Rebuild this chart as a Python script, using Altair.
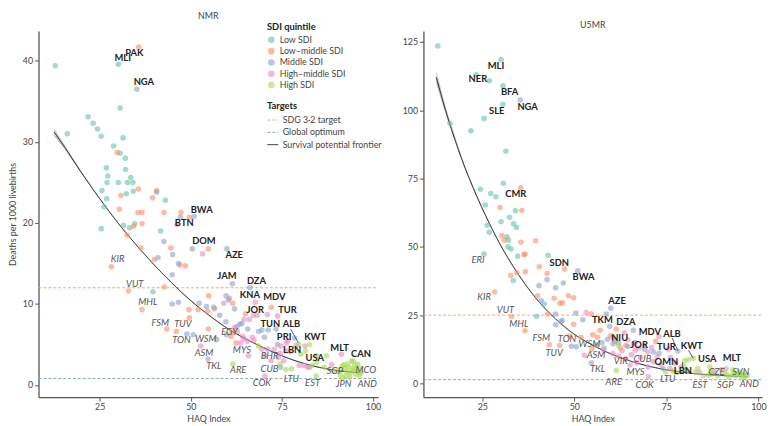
import altair as alt
import pandas as pd

FONT = "Lato"
SDI = ["Low SDI", "Low–middle SDI", "Middle SDI", "High–middle SDI", "High SDI"]
SDI_COLORS = ["#66c2a5", "#fc8d62", "#8da0cb", "#e78ac3", "#a6d854"]
TARGETS = ["SDG 3·2 target", "Global optimum", "Survival potential frontier"]
TARGET_COLORS = ["#f4a582", "#8fa8b8", "#1a1a1a"]

# ---------------- NMR panel (HAQ, deaths per 1000) ----------------
nmr_low = [(12.8,39.4),(30.1,39.6),(30.6,34.2),(21.8,33.1),(23.2,32.3),(24.4,31.6),(16.1,31.0),(25.4,30.7),
           (31.4,30.5),(28.8,29.5),(30.6,28.6),(32.0,28.0),(26.8,26.8),(32.1,26.6),(27.2,25.8),(33.5,25.6),
           (27.0,25.0),(30.1,25.0),(32.6,25.0),(34.1,25.0),(25.6,24.0),(34.2,23.9),(32.3,23.6),(43.0,22.8),
           (26.9,23.0),(26.2,22.0),(31.5,19.7),(33.2,19.4),(34.6,19.9),(25.4,19.3),(41.7,19.0),(39.6,11.5)]
nmr_lowmid = [(35.7,41.7),(29.8,28.7),(35.6,24.2),(40.6,24.0),(39.5,23.1),(30.8,23.4),(30.4,21.7),(35.5,21.3),
              (36.6,21.3),(42.6,21.3),(47.3,21.3),(49.6,20.7),(34.3,19.6),(36.6,19.9),(46.2,19.8),(32.5,18.5),
              (36.3,16.9),(44.5,16.9),(54.8,16.8),(40.0,15.5),(47.0,14.8),(48.5,14.7),(28.2,14.6),(42.7,12.1),
              (32.9,11.6),(54.9,11.0),(60.6,10.7),(61.5,10.1),(49.5,9.3),(52.0,9.3),(54.6,9.1),(56.5,9.4),
              (36.6,9.3),(49.6,8.3),(65.0,8.8),(72.1,9.6),(43.4,6.9),(46.0,6.6),(54.8,6.9),(61.3,6.5),
              (62.8,6.6),(61.0,6.0),(62.4,5.2)]
nmr_mid = [(35.2,36.5),(40.6,23.8),(47.1,20.7),(50.9,20.8),(42.6,17.7),(45.0,16.1),(50.4,16.8),(59.9,16.8),
           (41.0,15.7),(46.6,15.0),(44.9,13.6),(61.4,12.5),(66.2,12.0),(59.7,11.0),(60.3,10.5),(44.9,10.0),
           (46.6,10.2),(52.3,10.1),(54.3,9.7),(56.3,9.6),(57.9,8.6),(62.0,9.4),(59.6,7.8),(63.4,7.5),
           (64.0,7.6),(62.6,7.2),(48.9,6.3),(50.7,6.2),(57.1,5.6),(59.8,6.2),(65.6,6.9),(68.6,6.6),
           (69.5,6.8),(71.2,6.8),(73.4,6.9),(70.2,5.9),(73.8,5.0),(78.5,5.8),(54.7,3.2),(74.6,2.2)]
nmr_highmid = [(53.2,16.2),(59.0,10.1),(67.7,10.2),(64.6,8.1),(66.1,8.1),(67.2,8.6),(68.2,8.6),(71.0,8.7),
               (73.8,8.5),(62.0,7.1),(64.2,6.0),(64.6,5.7),(63.7,5.2),(65.6,5.4),(66.9,5.9),(67.3,5.5),
               (52.7,4.8),(65.8,3.6),(69.5,4.4),(71.1,4.4),(70.3,3.6),(72.9,4.4),(74.5,3.9),(74.0,3.4),
               (70.3,1.1),(76.2,5.2),(76.6,5.5),(81.3,4.8),(82.0,2.2),(88.6,2.5),(91.3,3.8),(74.7,4.8),
               (77.4,4.1),(76.2,4.2),(81.0,2.4),(79.7,2.4),(78.9,4.9),(82.6,2.2),(75.5,3.0),(72.0,3.0)]
nmr_high = [(61.5,2.6),(68.6,4.8),(74.5,2.6),(79.6,5.0),(82.6,5.0),(80.2,3.8),(81.5,4.2),(84.5,3.6),
            (83.3,2.4),(87.2,3.6),(84.4,1.1),(76.1,1.9),(77.6,2.0),(86.6,2.2),(84.5,2.8),(89.1,1.7),
            (91.0,1.3),(91.6,0.9),(90.5,1.8),(91.5,2.3),(92.0,2.5),(92.3,2.0),(92.8,1.6),(93.0,2.6),
            (93.3,2.2),(93.8,1.5),(94.1,3.0),(94.3,2.0),(94.6,1.8),(95.0,2.4),(95.2,1.3),(95.5,2.0),
            (95.8,2.6),(96.0,1.6),(96.3,1.1),(96.5,2.1),(96.8,1.5),(92.5,1.1),(93.6,1.0),(94.6,2.9)]

nmr_front_x = [12.5, 15, 20, 25, 30, 35, 40, 45, 50, 55, 60, 65, 70, 75, 80, 85, 90, 96.5]
nmr_front_y = [31.2, 29.6, 26.2, 23.0, 20.0, 17.3, 14.8, 12.5, 10.4, 8.6, 7.0, 5.7, 4.6, 3.6, 2.8, 2.2, 1.8, 1.5]
nmr_front_ci = [0.5, 0.3, 0.15, 0.08, 0.05, 0.05, 0.05, 0.05, 0.05, 0.05, 0.05, 0.05, 0.05, 0.05, 0.05, 0.05, 0.05, 0.05]
nmr_targets = [12.0, 0.8]

nmr_bold = [("PAK",34.5,41.0),("MLI",31.3,40.3),("NGA",37.1,37.4),("BWA",53.0,21.6),("BTN",48.2,20.0),
            ("DOM",53.6,17.8),("AZE",61.9,16.1),("JAM",59.9,13.5),("DZA",68.0,12.8),("KNA",66.2,11.1),
            ("MDV",72.9,10.9),("JOR",67.7,9.3),("TUR",76.5,9.3),("TUN",71.8,7.5),("ALB",77.6,7.5),
            ("PRI",75.6,5.9),("KWT",84.1,5.9),("LBN",77.8,4.3),("USA",84.0,3.3),("MLT",90.8,4.6),("CAN",96.7,3.8)]
nmr_italic = [("KIR",29.9,15.5),("VUT",34.6,12.4),("MHL",38.2,10.3),("FSM",41.6,7.7),("TUV",47.8,7.5),
              ("TON",47.4,5.6),("WSM",54.1,5.7),("EGY",60.6,6.5),("ASM",53.6,3.9),("TKL",56.3,2.4),
              ("MYS",64.0,4.3),("ARE",63.0,1.8),("BHR",71.6,3.6),("CUB",71.6,2.0),("COK",69.5,0.3),
              ("LTU",77.6,0.7),("EST",83.4,0.3),("SGP",89.5,1.7),("JPN",91.9,0.1),("MCO",98.0,1.9),("AND",98.4,0.1)]
nmr_leaders = [(77.4,6.9,79.5,5.2)]

# ---------------- U5MR panel ----------------
u5_low = [(12.9,123.5),(30.1,118.5),(23.3,113.0),(26.9,110.8),(30.6,108.9),(30.6,102.2),(25.5,97.0),(16.2,95.2),
          (21.9,92.5),(31.4,85.0),(30.7,73.3),(24.5,71.1),(27.3,69.5),(28.7,68.3),(25.8,65.3),(34.0,63.2),
          (32.4,60.8),(30.1,59.2),(33.5,58.4),(34.3,57.1),(26.3,57.9),(26.9,55.3),(31.7,53.7),(32.1,52.4),
          (32.0,50.0),(32.8,49.2),(34.6,46.6),(25.5,47.4),(42.9,46.9),(33.4,37.7),(41.8,29.1),(39.7,24.6)]
u5_lowmid = [(35.4,71.6),(29.8,64.4),(35.7,63.3),(30.3,54.1),(31.0,52.4),(35.5,51.7),(39.5,52.2),(36.3,47.1),
             (36.6,47.4),(40.5,42.7),(47.3,41.9),(42.6,40.3),(34.4,40.5),(36.7,40.9),(32.7,39.5),(28.3,33.5),
             (40.0,32.1),(48.4,32.1),(49.8,31.4),(44.5,31.2),(46.1,29.4),(46.8,29.5),(32.9,24.5),(42.8,25.4),
             (54.6,25.4),(36.6,19.3),(49.8,21.7),(61.4,19.9),(43.2,14.2),(46.0,13.9),(48.7,17.4),(51.8,16.9),
             (55.0,17.8),(56.3,16.9),(59.8,17.5),(54.8,12.5),(72.1,15.4),(64.0,14.0),(60.5,17.0),(57.0,19.5),
             (62.5,13.0)]
u5_mid = [(35.3,103.7),(50.9,41.2),(42.6,38.0),(40.4,35.8),(47.0,36.8),(44.9,35.0),(41.0,30.3),(44.9,25.4),
          (46.7,23.1),(50.4,25.8),(52.3,23.3),(59.9,27.5),(58.7,25.4),(44.9,21.5),(46.4,22.6),(59.6,20.9),
          (66.0,19.5),(49.2,13.6),(50.5,13.4),(54.6,7.5),(57.5,15.0),(59.0,16.2),(60.5,14.5),(61.0,15.5),
          (62.0,14.8),(73.0,11.1),(74.1,5.4),(78.1,11.9),(69.0,12.5),(66.5,15.0),(64.5,13.5),(71.5,11.5),
          (56.0,14.0),(58.0,13.0)]
u5_highmid = [(53.2,26.0),(63.6,18.6),(52.7,10.3),(65.1,6.8),(70.1,2.5),(73.0,17.2),(76.1,9.5),(91.2,5.4),
              (64.5,16.0),(66.0,14.5),(67.5,13.0),(69.0,14.0),(70.0,11.5),(68.0,9.5),(71.5,8.0),(73.5,7.0),
              (63.0,12.0),(60.5,11.0),(65.5,10.5),(71.0,13.2),(75.5,12.5),(77.5,7.5),(79.0,6.0),(76.0,5.5),
              (84.0,4.0),(88.0,4.5),(90.0,5.0),(70.0,6.0),(67.0,7.5),(58.0,12.0),(66.5,12.2),(72.5,9.8),
              (62.0,10.0),(64.0,9.0)]
u5_high = [(61.4,4.8),(74.8,4.2),(76.8,4.6),(77.9,4.0),(80.0,8.4),(81.0,8.7),(82.3,9.2),(79.7,6.6),
           (80.5,5.0),(82.9,4.2),(83.5,5.5),(86.8,6.0),(87.0,4.2),(87.7,3.6),(86.5,3.0),(85.0,2.8),
           (89.0,2.8),(90.8,4.0),(91.5,3.2),(92.0,2.5),(93.0,3.2),(93.5,4.0),(94.0,2.8),(94.5,3.5),
           (95.0,4.2),(95.5,3.0),(96.0,3.5),(96.5,2.6),(93.0,5.0),(95.5,2.2),(97.0,3.0),(62.0,14.0)]

u5_front_x = [12.5, 15, 20, 25, 30, 35, 40, 45, 50, 55, 60, 65, 70, 75, 80, 85, 90, 97]
u5_front_y = [112, 100, 80, 64, 50.5, 39.5, 30.5, 23.5, 18, 14, 10.8, 8.3, 6.4, 5.0, 4.0, 3.3, 2.9, 2.5]
u5_front_ci = [2.5, 1.4, 0.6, 0.3, 0.2, 0.15, 0.1, 0.1, 0.1, 0.1, 0.1, 0.1, 0.1, 0.1, 0.1, 0.1, 0.1, 0.1]
u5_targets = [25.0, 1.4]

u5_bold = [("MLI",28.7,116.3),("NER",23.8,111.5),("BFA",32.4,106.5),("NGA",37.3,101.2),("SLE",28.9,99.7),
           ("CMR",34.1,69.3),("SDN",45.9,44.2),("BWA",52.5,38.8),("AZE",61.6,30.1),("TKM",57.6,23.1),
           ("DZA",64.0,22.5),("MDV",70.5,19.0),("ALB",76.5,18.1),("NIU",62.3,16.6),("KWT",81.9,13.7),
           ("JOR",67.6,14.2),("TUR",75.0,13.3),("USA",86.1,8.9),("MLT",92.8,9.2),("OMN",75.0,7.8),("LBN",79.5,4.5)]
u5_italic = [("ERI",23.8,45.2),("KIR",25.5,31.5),("VUT",31.3,26.9),("MHL",34.9,21.9),("FSM",41.0,16.8),
             ("TON",48.0,16.2),("WSM",54.1,14.5),("TUV",44.5,11.3),("ASM",55.9,10.3),("VIR",62.6,8.3),
             ("CUB",68.5,8.9),("TKL",56.3,5.2),("MYS",66.6,4.2),("CZE",88.6,4.2),("SVN",95.2,4.2),
             ("ARE",60.7,0.7),("LTU",75.4,1.7),("EST",84.1,-0.5),("COK",69.1,-0.7),("SGP",91.0,-0.5),("AND",97.5,-0.2)]
u5_leaders = [(76.6,16.6,78.1,12.0),(81.0,12.2,82.3,9.3),(79.4,7.9,79.4,5.5)]


def points_df(groups):
    rows = []
    for name, pts in zip(SDI, groups):
        for h, v in pts:
            rows.append({"haq": h, "val": v, "sdi": name})
    return pd.DataFrame(rows)


def panel(title, groups, fx, fy, fci, targets, bold, italic, leaders, xdom, ydom, yticks, ytitle, show_legend, w, h):
    xs = alt.Scale(domain=xdom, nice=False, zero=False)
    ys = alt.Scale(domain=ydom, nice=False, zero=False)
    xax = alt.Axis(values=[25, 50, 75, 100], title="HAQ Index")
    yax = alt.Axis(values=yticks, title=ytitle, titlePadding=5) if ytitle else alt.Axis(values=yticks, title=None)

    band = pd.DataFrame({"haq": fx, "lo": [a - b for a, b in zip(fy, fci)], "hi": [a + b for a, b in zip(fy, fci)]})
    lines = []
    for i, tval in enumerate(targets):
        for xv in xdom:
            lines.append({"haq": xv, "val": tval, "target": TARGETS[i]})
    for xv, yv in zip(fx, fy):
        lines.append({"haq": xv, "val": yv, "target": TARGETS[2]})
    lines = pd.DataFrame(lines)

    if show_legend:
        fill_legend = alt.Legend(title="SDI quintile", orient="none", legendX=w - 113, legendY=-9,
                                 symbolOpacity=0.6, symbolSize=45, rowPadding=1.5, labelFontSize=9,
                                 titleFontSize=9.5, titleFontWeight="bold", titleColor="#222", labelColor="#444",
                                 labelFont=FONT, titleFont=FONT, titlePadding=4)
        stroke_legend = alt.Legend(title="Targets", orient="none", legendX=w - 113, legendY=71,
                                   symbolType="stroke", symbolSize=120, symbolStrokeWidth=1.2, rowPadding=1.5,
                                   labelFontSize=9, titleFontSize=9.5, titleFontWeight="bold", titleColor="#222",
                                   labelColor="#444", labelFont=FONT, titleFont=FONT, titlePadding=4)
    else:
        fill_legend = None
        stroke_legend = None

    band_layer = alt.Chart(band).mark_area(color="#bdbdbd", opacity=0.8).encode(
        x=alt.X("haq:Q", scale=xs, axis=xax), y=alt.Y("lo:Q", scale=ys, axis=yax), y2="hi:Q")

    line_layer = alt.Chart(lines).mark_line(interpolate="monotone", clip=True).encode(
        x=alt.X("haq:Q", scale=xs, axis=xax),
        y=alt.Y("val:Q", scale=ys, axis=yax),
        stroke=alt.Stroke("target:N", scale=alt.Scale(domain=TARGETS, range=TARGET_COLORS), legend=stroke_legend),
        strokeDash=alt.StrokeDash("target:N", scale=alt.Scale(domain=TARGETS, range=[[3, 2], [3, 2], [1, 0]]),
                                  legend=stroke_legend),
        strokeWidth=alt.StrokeWidth("target:N", scale=alt.Scale(domain=TARGETS, range=[1, 1, 1.2]), legend=None),
    )

    pt_layer = alt.Chart(points_df(groups)).mark_circle(size=32, opacity=0.6).encode(
        x=alt.X("haq:Q", scale=xs, axis=xax),
        y=alt.Y("val:Q", scale=ys, axis=yax),
        fill=alt.Fill("sdi:N", scale=alt.Scale(domain=SDI, range=SDI_COLORS), legend=fill_legend),
    )

    bdf = pd.DataFrame(bold, columns=["lab", "haq", "val"])
    idf = pd.DataFrame(italic, columns=["lab", "haq", "val"])
    bold_layer = alt.Chart(bdf).mark_text(font=FONT, fontSize=9.5, fontWeight="bold", color="#222").encode(
        x=alt.X("haq:Q", scale=xs), y=alt.Y("val:Q", scale=ys), text="lab:N")
    ital_layer = alt.Chart(idf).mark_text(font=FONT, fontSize=9.5, fontStyle="italic", color="#555").encode(
        x=alt.X("haq:Q", scale=xs), y=alt.Y("val:Q", scale=ys), text="lab:N")

    ldf = pd.DataFrame(leaders, columns=["x1", "y1", "x2", "y2"])
    lead_layer = alt.Chart(ldf).mark_rule(color="#333", strokeWidth=0.8).encode(
        x=alt.X("x1:Q", scale=xs), y=alt.Y("y1:Q", scale=ys), x2="x2:Q", y2="y2:Q")

    return alt.layer(band_layer, line_layer, pt_layer, lead_layer, bold_layer, ital_layer).properties(
        width=w, height=h,
        title=alt.TitleParams(title, fontSize=9, fontWeight="normal", color="#444", font=FONT, offset=1),
    )


left = panel("NMR", [nmr_low, nmr_lowmid, nmr_mid, nmr_highmid, nmr_high], nmr_front_x, nmr_front_y,
             nmr_front_ci, nmr_targets, nmr_bold, nmr_italic, nmr_leaders, [8.2, 101.4], [-1.5, 43.7],
             [0, 10, 20, 30, 40], "Deaths per 1000 livebirths", True, 345, 372)
right = panel("U5MR", [u5_low, u5_lowmid, u5_mid, u5_highmid, u5_high], u5_front_x, u5_front_y,
              u5_front_ci, u5_targets, u5_bold, u5_italic, u5_leaders, [9.0, 101.0], [-5.0, 129.0],
              [0, 25, 50, 75, 100, 125], None, False, 344, 372)

chart = alt.hconcat(left, right, spacing=20).resolve_scale(
    x="independent", y="independent", fill="independent", stroke="independent",
    strokeDash="independent", strokeWidth="independent"
).properties(padding={"top": 1, "left": 0, "right": 0, "bottom": 0}).configure_view(stroke=None).configure_axis(
    grid=False, domainColor="#555", domainWidth=1.3, tickColor="#555", tickSize=4, tickWidth=1,
    labelColor="#444", labelFontSize=9, labelFont=FONT, titleFont=FONT, titleFontSize=9,
    titleColor="#444", titleFontWeight="normal", labelPadding=2, titlePadding=3
)

chart.save("out.html", embed_options={"renderer": "svg", "actions": False})
